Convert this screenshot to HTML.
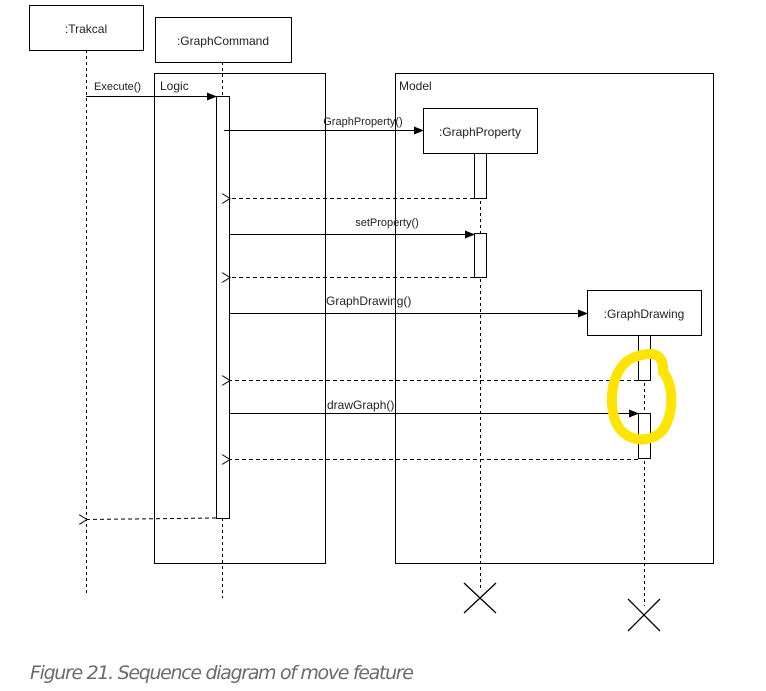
<!DOCTYPE html>
<html><head><style>body{margin:0;background:#fff}svg{display:block}</style></head><body>
<svg width="766" height="691" xmlns="http://www.w3.org/2000/svg" font-family="Liberation Sans, Arial, sans-serif">
<defs>
<marker id="a" markerWidth="10" markerHeight="8" refX="9" refY="4" orient="auto" markerUnits="userSpaceOnUse"><path d="M0,0 L10,4 L0,8 z" fill="#000"/></marker>
<marker id="o" markerWidth="10" markerHeight="10" refX="1" refY="5" orient="auto" markerUnits="userSpaceOnUse"><path d="M9,0 L1,5 L9,10" fill="none" stroke="#000"/></marker>
</defs>
<g fill="none" stroke="#000" stroke-width="1">
<rect x="154.5" y="73.5" width="171" height="490"/>
<rect x="395.5" y="73.5" width="318" height="490"/>
<g stroke-dasharray="3,3">
<line x1="86.5" y1="50" x2="86.5" y2="596"/>
<line x1="222.5" y1="62" x2="222.5" y2="598"/>
<line x1="480.5" y1="153" x2="480.5" y2="590"/>
<line x1="644.5" y1="335" x2="644.5" y2="606"/>
</g>
<rect x="29.5" y="5.5" width="114" height="45" fill="#fff"/>
<rect x="155.5" y="17.5" width="136" height="45" fill="#fff"/>
<rect x="216.5" y="96.5" width="13" height="422" fill="#fff"/>
<rect x="423.5" y="108.5" width="114" height="45" fill="#fff"/>
<rect x="474.5" y="153.5" width="12" height="45" fill="#fff"/>
<rect x="474.5" y="233.5" width="12" height="44" fill="#fff"/>
<rect x="587.5" y="290.5" width="114" height="45" fill="#fff"/>
<rect x="638.5" y="335.5" width="12" height="45" fill="#fff"/>
<rect x="638.5" y="413.5" width="12" height="45" fill="#fff"/>
<line x1="86" y1="96.5" x2="216" y2="96.5" marker-end="url(#a)"/>
<line x1="224" y1="130.5" x2="423" y2="130.5" marker-end="url(#a)"/>
<line x1="229" y1="234.5" x2="474" y2="234.5" marker-end="url(#a)"/>
<line x1="229" y1="313.5" x2="587" y2="313.5" marker-end="url(#a)"/>
<line x1="229" y1="413.5" x2="638" y2="413.5" marker-end="url(#a)"/>
<g stroke-dasharray="4,3">
<line x1="474" y1="198.5" x2="230" y2="198.5" marker-end="url(#o)"/>
<line x1="474" y1="277.5" x2="230" y2="277.5" marker-end="url(#o)"/>
<line x1="638" y1="380.5" x2="230" y2="380.5" marker-end="url(#o)"/>
<line x1="638" y1="459.5" x2="230" y2="459.5" marker-end="url(#o)"/>
<line x1="216" y1="518" x2="87" y2="519.5" marker-end="url(#o)"/>
</g>
<path d="M464,583 L496,613 M496,583 L464,613 M628,599 L660,631 M660,599 L628,631" stroke-width="1.3"/>
<path d="M635,357 C655,350 664,355 663,372 C675,385 674,420 660,433 C645,445 622,440 615,420 C608,400 612,365 635,357 Z" stroke="#ffe400" stroke-width="10"/>
</g>
<g font-size="12" fill="#222">
<text x="86" y="33" text-anchor="middle">:Trakcal</text>
<text x="223" y="45" text-anchor="middle">:GraphCommand</text>
<text x="480" y="136" text-anchor="middle">:GraphProperty</text>
<text x="644" y="318" text-anchor="middle">:GraphDrawing</text>
<text x="160" y="90">Logic</text>
<text x="399" y="90">Model</text>
<text x="94" y="90" font-size="11">Execute()</text>
<text x="363" y="125" font-size="11" text-anchor="middle">GraphProperty()</text>
<text x="387" y="226" font-size="11" text-anchor="middle">setProperty()</text>
<text x="326" y="305">GraphDrawing()</text>
<text x="327" y="409">drawGraph()</text>
</g>
<text x="30" y="679" font-size="19" font-style="italic" fill="#6b6b6b" font-family="DejaVu Sans, sans-serif" textLength="384">Figure 21. Sequence diagram of move feature</text>
</svg>
</body></html>
